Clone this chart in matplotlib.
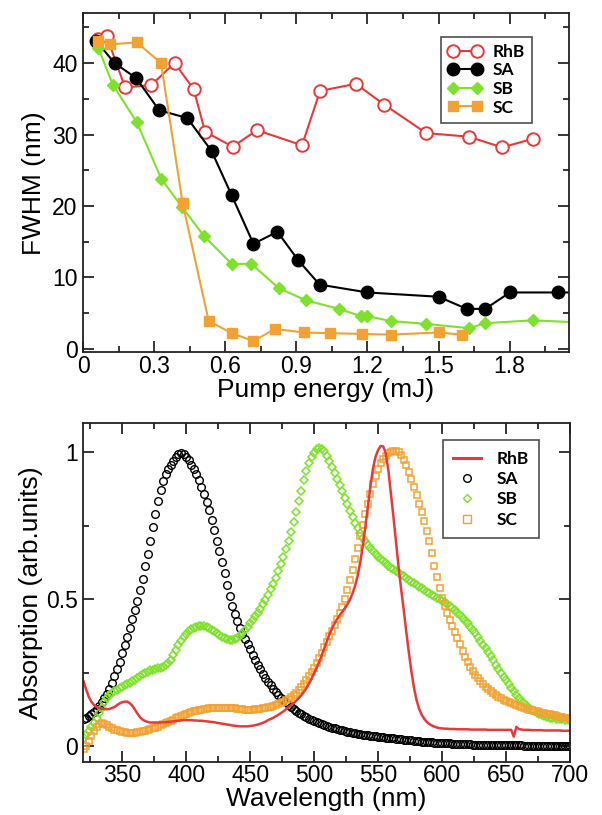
import numpy as np
import matplotlib
matplotlib.use("Agg")
import matplotlib.pyplot as plt
from matplotlib.lines import Line2D
from matplotlib.ticker import MultipleLocator, FuncFormatter

plt.rcParams['font.family'] = ['Liberation Sans', 'DejaVu Sans']

RED = "#e8393a"
GREEN = "#7ee22c"
ORANGE = "#f2a232"

# ---- top panel: FWHM vs pump energy ----
rhb_e = [0.063, 0.099, 0.177, 0.287, 0.386, 0.466, 0.515, 0.631, 0.734, 0.924,
         1.000, 1.151, 1.270, 1.448, 1.627, 1.768, 1.898]
rhb_w = [43.3, 43.8, 36.6, 36.9, 40.0, 36.4, 30.4, 28.3, 30.6, 28.5,
         36.1, 37.1, 34.2, 30.2, 29.7, 28.2, 29.4]

sa_e = [0.055, 0.133, 0.224, 0.321, 0.440, 0.542, 0.627, 0.719, 0.820, 0.908,
        0.998, 1.200, 1.500, 1.619, 1.697, 1.801, 2.002, 2.100]
sa_w = [43.1, 40.0, 37.9, 33.4, 32.3, 27.7, 21.5, 14.7, 16.4, 12.4,
        9.0, 7.9, 7.3, 5.6, 5.6, 7.9, 7.9, 7.9]

sb_e = [0.065, 0.125, 0.227, 0.330, 0.419, 0.510, 0.627, 0.710, 0.826, 0.940,
        1.080, 1.172, 1.198, 1.299, 1.449, 1.629, 1.697, 1.897, 2.100]
sb_w = [42.1, 37.0, 31.7, 23.8, 19.8, 15.8, 11.9, 11.9, 8.5, 6.8,
        5.6, 4.6, 4.6, 3.9, 3.5, 2.9, 3.6, 4.0, 3.7]

sc_e = [0.062, 0.112, 0.227, 0.329, 0.420, 0.530, 0.628, 0.719, 0.810, 0.931,
        1.040, 1.176, 1.298, 1.500, 1.597]
sc_w = [43.1, 42.6, 42.9, 40.0, 20.4, 3.9, 2.2, 1.1, 2.8, 2.3,
        2.2, 2.1, 2.0, 2.3, 2.0]

# ---- bottom panel: absorption spectra, 320-700 nm every 2 nm ----
wavelength = np.arange(320, 701, 2)

sa_abs = [
    0.092, 0.098, 0.104, 0.110, 0.118, 0.127, 0.138, 0.150, 0.163, 0.178,   # 320-338
    0.196, 0.216, 0.238, 0.262, 0.288, 0.316, 0.345, 0.373, 0.402, 0.432,   # 340-358
    0.463, 0.496, 0.531, 0.570, 0.612, 0.655, 0.700, 0.745, 0.790, 0.836,   # 360-378
    0.872, 0.903, 0.928, 0.945, 0.958, 0.970, 0.983, 0.995, 0.999, 0.993,   # 380-398
    0.985, 0.973, 0.958, 0.942, 0.925, 0.905, 0.882, 0.857, 0.830, 0.803,   # 400-418
    0.771, 0.735, 0.700, 0.664, 0.627, 0.588, 0.548, 0.510, 0.478, 0.450,   # 420-438
    0.425, 0.403, 0.383, 0.365, 0.347, 0.330, 0.311, 0.294, 0.278, 0.262,   # 440-458
    0.247, 0.233, 0.220, 0.207, 0.196, 0.185, 0.175, 0.166, 0.158, 0.150,   # 460-478
    0.142, 0.135, 0.128, 0.121, 0.115, 0.109, 0.104, 0.099, 0.094, 0.090,   # 480-498
    0.086, 0.082, 0.078, 0.075, 0.072, 0.069, 0.066, 0.063, 0.061, 0.058,   # 500-518
    0.056, 0.054, 0.052, 0.050, 0.048, 0.046, 0.045, 0.043, 0.042, 0.040,   # 520-538
    0.039, 0.037, 0.036, 0.035, 0.034, 0.033, 0.032, 0.031, 0.030, 0.029,   # 540-558
    0.028, 0.027, 0.026, 0.025, 0.024, 0.023, 0.022, 0.021, 0.020, 0.019,   # 560-578
    0.018, 0.017, 0.016, 0.016, 0.015, 0.014, 0.014, 0.013, 0.012, 0.012,   # 580-598
    0.011, 0.011, 0.010, 0.010, 0.009, 0.009, 0.008, 0.008, 0.008, 0.007,   # 600-618
    0.007, 0.007, 0.006, 0.006, 0.006, 0.006, 0.005, 0.005, 0.005, 0.005,   # 620-638
    0.004, 0.004, 0.004, 0.004, 0.004, 0.003, 0.003, 0.003, 0.003, 0.003,   # 640-658
    0.003, 0.003, 0.002, 0.002, 0.002, 0.002, 0.002, 0.002, 0.002, 0.002,   # 660-678
    0.002, 0.002, 0.001, 0.001, 0.001, 0.001, 0.001, 0.001, 0.001, 0.001,   # 680-698
    0.001]                                                                  # 700

sb_abs = [
    0.030, 0.040, 0.052, 0.065, 0.080, 0.097, 0.114, 0.132, 0.150, 0.165,
    0.174, 0.181, 0.187, 0.192, 0.197, 0.202, 0.207, 0.212, 0.217, 0.222,
    0.227, 0.233, 0.239, 0.245, 0.250, 0.254, 0.258, 0.261, 0.263, 0.265,
    0.267, 0.270, 0.275, 0.283, 0.295, 0.311, 0.328, 0.344, 0.359, 0.372,
    0.383, 0.392, 0.399, 0.404, 0.407, 0.409, 0.410, 0.409, 0.406, 0.402,
    0.397, 0.391, 0.385, 0.378, 0.372, 0.367, 0.364, 0.362, 0.362, 0.364,
    0.368, 0.375, 0.384, 0.395, 0.407, 0.419, 0.430, 0.442, 0.455, 0.468,
    0.483, 0.499, 0.516, 0.534, 0.553, 0.574, 0.596, 0.620, 0.645, 0.672,
    0.700, 0.730, 0.762, 0.797, 0.834, 0.870, 0.905, 0.937, 0.963, 0.984,
    0.999, 1.010, 1.015, 1.012, 1.003, 0.988, 0.970, 0.950, 0.930, 0.910,
    0.890, 0.868, 0.846, 0.824, 0.802, 0.780, 0.760, 0.742, 0.725, 0.710,
    0.697, 0.685, 0.674, 0.664, 0.654, 0.645, 0.637, 0.629, 0.622, 0.615,
    0.608, 0.602, 0.596, 0.590, 0.584, 0.578, 0.572, 0.566, 0.560, 0.554,
    0.548, 0.542, 0.537, 0.531, 0.526, 0.521, 0.516, 0.511, 0.506, 0.501,
    0.496, 0.490, 0.484, 0.477, 0.470, 0.463, 0.455, 0.447, 0.438, 0.428,
    0.418, 0.407, 0.396, 0.384, 0.372, 0.359, 0.346, 0.333, 0.320, 0.306,
    0.292, 0.278, 0.264, 0.250, 0.237, 0.224, 0.211, 0.199, 0.187, 0.176,
    0.165, 0.155, 0.146, 0.138, 0.131, 0.125, 0.119, 0.114, 0.110, 0.106,
    0.103, 0.100, 0.098, 0.096, 0.095, 0.094, 0.093, 0.092, 0.091, 0.090,
    0.089]

sc_abs = [
    -0.010, 0.002, 0.018, 0.035, 0.052, 0.066, 0.075, 0.078, 0.076, 0.071,
    0.066, 0.061, 0.057, 0.054, 0.051, 0.049, 0.048, 0.047, 0.047, 0.047,
    0.047, 0.048, 0.049, 0.051, 0.053, 0.055, 0.058, 0.061, 0.064, 0.067,
    0.071, 0.075, 0.079, 0.083, 0.087, 0.091, 0.095, 0.099, 0.103, 0.107,
    0.110, 0.113, 0.116, 0.119, 0.121, 0.123, 0.125, 0.127, 0.128, 0.129,
    0.130, 0.131, 0.132, 0.132, 0.132, 0.132, 0.132, 0.131, 0.130, 0.129,
    0.128, 0.127, 0.126, 0.125, 0.125, 0.125, 0.125, 0.126, 0.127, 0.128,
    0.129, 0.131, 0.133, 0.135, 0.138, 0.141, 0.144, 0.148, 0.152, 0.157,
    0.162, 0.168, 0.175, 0.183, 0.192, 0.202, 0.213, 0.225, 0.238, 0.252,
    0.267, 0.283, 0.300, 0.318, 0.337, 0.356, 0.375, 0.394, 0.413, 0.432,
    0.452, 0.475, 0.502, 0.532, 0.565, 0.600, 0.637, 0.675, 0.714, 0.752,
    0.790, 0.826, 0.860, 0.892, 0.920, 0.944, 0.963, 0.978, 0.989, 0.997,
    1.002, 1.005, 1.005, 1.000, 0.990, 0.975, 0.956, 0.934, 0.909, 0.882,
    0.854, 0.826, 0.797, 0.766, 0.733, 0.697, 0.657, 0.615, 0.575, 0.538,
    0.505, 0.477, 0.452, 0.431, 0.411, 0.390, 0.369, 0.347, 0.325, 0.305,
    0.287, 0.271, 0.257, 0.244, 0.232, 0.221, 0.211, 0.202, 0.194, 0.187,
    0.181, 0.175, 0.169, 0.164, 0.159, 0.155, 0.151, 0.147, 0.143, 0.140,
    0.137, 0.134, 0.131, 0.128, 0.125, 0.123, 0.121, 0.119, 0.117, 0.115,
    0.113, 0.111, 0.109, 0.107, 0.105, 0.103, 0.101, 0.099, 0.097, 0.095,
    0.093]

rhb_abs = [
    0.220, 0.192, 0.168, 0.152, 0.141, 0.134, 0.130, 0.128, 0.127, 0.126,
    0.127, 0.130, 0.134, 0.140, 0.146, 0.150, 0.152, 0.152, 0.147, 0.138,
    0.125, 0.111, 0.099, 0.091, 0.086, 0.083, 0.081, 0.081, 0.081, 0.081,
    0.081, 0.082, 0.082, 0.083, 0.084, 0.085, 0.086, 0.087, 0.088, 0.089,
    0.089, 0.089, 0.089, 0.088, 0.088, 0.087, 0.087, 0.086, 0.085, 0.084,
    0.083, 0.082, 0.080, 0.079, 0.077, 0.076, 0.074, 0.073, 0.071, 0.070,
    0.069, 0.068, 0.068, 0.068, 0.068, 0.069, 0.070, 0.072, 0.074, 0.077,
    0.080, 0.084, 0.089, 0.093, 0.097, 0.102, 0.107, 0.113, 0.119, 0.126,
    0.133, 0.140, 0.147, 0.155, 0.164, 0.174, 0.185, 0.198, 0.213, 0.230,
    0.249, 0.268, 0.288, 0.310, 0.334, 0.358, 0.381, 0.401, 0.418, 0.433,
    0.446, 0.458, 0.470, 0.483, 0.499, 0.520, 0.546, 0.580, 0.625, 0.680,
    0.745, 0.815, 0.885, 0.945, 0.985, 1.008, 1.022, 1.020, 0.998, 0.940,
    0.860, 0.780, 0.695, 0.610, 0.535, 0.465, 0.390, 0.320, 0.255, 0.200,
    0.158, 0.128, 0.108, 0.094, 0.083, 0.076, 0.071, 0.067, 0.064, 0.062,
    0.061, 0.060, 0.060, 0.059, 0.059, 0.059, 0.058, 0.058, 0.058, 0.058,
    0.058, 0.057, 0.057, 0.057, 0.057, 0.057, 0.057, 0.057, 0.056, 0.056,
    0.056, 0.056, 0.056, 0.056, 0.056, 0.056, 0.056, 0.056, 0.033, 0.066,
    0.059, 0.057, 0.056, 0.056, 0.056, 0.055, 0.055, 0.055, 0.055, 0.055,
    0.054, 0.054, 0.054, 0.054, 0.054, 0.054, 0.054, 0.053, 0.053, 0.053,
    0.053]

fig = plt.figure(figsize=(6.02, 8.15), dpi=100)
ax1 = fig.add_axes([0.138, 0.5675, 0.807, 0.4165])
ax2 = fig.add_axes([0.138, 0.0655, 0.809, 0.4155])

fmt = FuncFormatter(lambda v, p: "%g" % round(v, 2))


def style_axes(ax):
    ax.tick_params(which="both", direction="in", top=True, right=True,
                   labelsize=16.5, width=1.1, pad=4)
    ax.tick_params(axis="x", which="both", pad=1.5)
    ax.tick_params(which="major", length=8)
    ax.tick_params(which="minor", length=4.5)
    for s in ax.spines.values():
        s.set_linewidth(1.3)
        s.set_color("#222222")
    ax.xaxis.set_major_formatter(fmt)
    ax.yaxis.set_major_formatter(fmt)


# top panel
ax1.plot(rhb_e, rhb_w, "-o", color=RED, mfc="white", mec=RED, ms=9, mew=1.4,
         lw=1.5, label="RhB")
ax1.plot(sa_e, sa_w, "-o", color="black", ms=9, lw=1.5, label="SA")
ax1.plot(sb_e, sb_w, "-D", color=GREEN, ms=6, lw=1.5, label="SB")
ax1.plot(sc_e, sc_w, "-s", color=ORANGE, ms=7, lw=1.5, label="SC")
ax1.set_xlim(0, 2.05)
ax1.set_ylim(-0.5, 47)
ax1.xaxis.set_major_locator(MultipleLocator(0.3))
ax1.xaxis.set_minor_locator(MultipleLocator(0.15))
ax1.yaxis.set_major_locator(MultipleLocator(10))
ax1.yaxis.set_minor_locator(MultipleLocator(5))
style_axes(ax1)
ax1.set_xlabel("Pump energy (mJ)", fontsize=19, labelpad=0)
ax1.set_ylabel("FWHM (nm)", fontsize=19, labelpad=4)
leg1 = ax1.legend(loc="upper right", bbox_to_anchor=(0.924, 0.93), borderaxespad=0,
                  numpoints=2, handlelength=2.0, handletextpad=0.6,
                  labelspacing=0.15, borderpad=0.4, fancybox=False,
                  prop={"family": "Lato", "weight": "bold", "size": 12.5})
leg1.get_frame().set_edgecolor("#222222")
leg1.get_frame().set_linewidth(1.2)

# bottom panel
ax2.plot(wavelength, sa_abs, "o", mfc="none", mec="black", ms=5.5, mew=1.0)
ax2.plot(wavelength, sb_abs, "D", mfc="none", mec=GREEN, ms=4.0, mew=1.1)
ax2.plot(wavelength, sc_abs, "s", mfc="none", mec=ORANGE, ms=4.8, mew=1.1)
ax2.plot(wavelength, rhb_abs, "-", color=RED, lw=1.8)
ax2.set_xlim(319.5, 700)
ax2.set_ylim(-0.052, 1.10)
ax2.xaxis.set_major_locator(MultipleLocator(50))
ax2.xaxis.set_minor_locator(MultipleLocator(25))
ax2.yaxis.set_major_locator(MultipleLocator(0.5))
ax2.yaxis.set_minor_locator(MultipleLocator(0.25))
style_axes(ax2)
ax2.set_xlabel("Wavelength (nm)", fontsize=19, labelpad=0)
ax2.set_ylabel("Absorption (arb.units)", fontsize=19, labelpad=2)

handles = [
    Line2D([], [], color=RED, lw=2.2),
    Line2D([], [], ls="none", marker="o", mfc="none", mec="black", ms=5.5),
    Line2D([], [], ls="none", marker="D", mfc="none", mec=GREEN, ms=4.2),
    Line2D([], [], ls="none", marker="s", mfc="none", mec=ORANGE, ms=5.5),
]
leg2 = ax2.legend(handles, ["RhB", "SA", "SB", "SC"], loc="upper right",
                  bbox_to_anchor=(0.937, 0.949), borderaxespad=0,
                  handlelength=1.6, handletextpad=0.9, labelspacing=0.25,
                  borderpad=0.6, fancybox=False,
                  prop={"family": "Lato", "weight": "bold", "size": 12.5})
leg2.get_frame().set_edgecolor("#222222")
leg2.get_frame().set_linewidth(1.2)

fig.savefig("out.png", dpi=100)
